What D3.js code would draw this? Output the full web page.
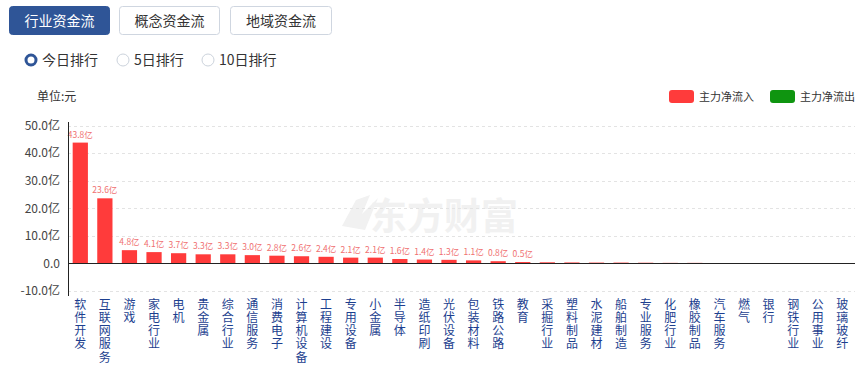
<!DOCTYPE html>
<html><head><meta charset="utf-8">
<script src="https://cdn.jsdelivr.net/npm/d3@7"></script>
<style>
body{margin:0;background:#fff;font-family:"Microsoft YaHei","Noto Sans CJK SC",sans-serif;}
</style></head>
<body><svg id="c" width="868" height="366"></svg>
<script>
const categories = ["软件开发","互联网服务","游戏","家电行业","电机","贵金属","综合行业","通信服务","消费电子","计算机设备","工程建设","专用设备","小金属","半导体","造纸印刷","光伏设备","包装材料","铁路公路","教育","采掘行业","塑料制品","水泥建材","船舶制造","专业服务","化肥行业","橡胶制品","汽车服务","燃气","银行","钢铁行业","公用事业","玻璃玻纤"];
const inflow = [43.8,23.6,4.8,4.1,3.7,3.3,3.3,3.0,2.8,2.6,2.4,2.1,2.1,1.6,1.4,1.3,1.1,0.8,0.5,0.4,0.35,0.3,0.3,0.25,0.2,0.2,0.15,0.1,0.08,0.05,0.03,0.02];
const yTicks = [50,40,30,20,10,0,-10];
const tabs = ["行业资金流","概念资金流","地域资金流"];
const radios = ["今日排行","5日排行","10日排行"];
const legendItems = [{name:"主力净流入",color:"#ff3b3b"},{name:"主力净流出",color:"#0f9510"}];

const svg = d3.select("#c");
const F = '"Microsoft YaHei","Noto Sans CJK SC",sans-serif';

// tabs
const tabX = d3.scaleOrdinal().domain(tabs).range([9,119,230]);
const tabW = [101,101,102];
tabs.forEach((t,i)=>{
  const g = svg.append("g");
  g.append("rect").attr("x",tabX(t)+0.5).attr("y",6.5).attr("width",tabW[i]-1).attr("height",28).attr("rx",3)
   .attr("fill",i===0?"#2f5597":"#fff").attr("stroke",i===0?"#2f5597":"#cfd6e0");
  g.append("text").attr("x",tabX(t)+tabW[i]/2).attr("y",26).attr("text-anchor","middle")
   .attr("font-size",14).attr("font-family",F).attr("fill",i===0?"#fff":"#333").text(t);
});

// radios
const radioX = [31,123,208];
radios.forEach((r,i)=>{
  if(i===0){
    svg.append("circle").attr("cx",radioX[i]).attr("cy",60).attr("r",5).attr("fill","#fff").attr("stroke","#2f5597").attr("stroke-width",3);
  } else {
    svg.append("circle").attr("cx",radioX[i]).attr("cy",60).attr("r",6).attr("fill","#fff").attr("stroke","#ccd3dc").attr("stroke-width",1);
  }
  svg.append("text").attr("x",radioX[i]+11).attr("y",65).attr("font-size",14).attr("font-family",F).attr("fill","#333").text(r);
});

// unit
svg.append("text").attr("x",37).attr("y",101).attr("font-size",12).attr("font-family",F).attr("fill","#333").text("单位:元");

// legend
const lx = [669,770];
legendItems.forEach((d,i)=>{
  svg.append("rect").attr("x",lx[i]).attr("y",90).attr("width",25).attr("height",13).attr("rx",3).attr("fill",d.color);
  svg.append("text").attr("x",lx[i]+30).attr("y",101).attr("font-size",11).attr("font-family",F).attr("fill","#333").text(d.name);
});

// scales
const x = d3.scaleBand().domain(categories).range([68,854.6]).paddingInner(0.38).paddingOuter(0.19);
const y = d3.scaleLinear().domain([-10,50]).range([291,125.5]);

// watermark
const wm = svg.append("g");
wm.append("path").attr("d","M342,226 L356,200 L370,195 L362,214 L378,198 L365,230 Z").attr("fill","#f1f1f1");
wm.append("text").attr("x",370).attr("y",230).attr("font-size",37).attr("font-weight","bold").attr("font-family",F)
  .attr("fill","#f1f1f1").text("东方财富");

// grid
svg.append("g").selectAll("line").data(yTicks).join("line")
  .attr("x1",68).attr("x2",855).attr("y1",d=>Math.round(y(d))+0.5).attr("y2",d=>Math.round(y(d))+0.5)
  .attr("stroke","#e3e3e3").attr("stroke-dasharray","3,3").attr("display",d=>d===0?"none":null);

// y axis labels
const yAxis = d3.axisLeft(y).tickValues(yTicks).tickSize(0).tickPadding(8)
  .tickFormat(d=>d===0?"0.0":d.toFixed(1)+"亿");
const ya = svg.append("g").attr("transform","translate(68,0)").call(yAxis);
ya.select(".domain").remove();
ya.selectAll("text").attr("font-size",12).attr("font-family",F).attr("fill","#444");

// bars
svg.append("g").selectAll("rect").data(inflow).join("rect")
  .attr("x",(d,i)=>x(categories[i])).attr("width",x.bandwidth())
  .attr("y",d=>y(d)).attr("height",d=>y(0)-y(d)).attr("fill","#ff3b3b");

// bar labels
svg.append("g").selectAll("text").data(inflow.map((v,i)=>({v,c:categories[i]})).filter(d=>d.v>=0.5)).join("text")
  .attr("x",d=>x(d.c)+x.bandwidth()/2).attr("y",d=>y(d.v)-5).attr("text-anchor","middle")
  .attr("font-size",8.5).attr("font-family",F).attr("fill","#f07070").text(d=>d.v.toFixed(1)+"亿");

// axis lines
svg.append("line").attr("x1",68.5).attr("x2",68.5).attr("y1",122).attr("y2",296).attr("stroke","#222").attr("stroke-width",1);
svg.append("line").attr("x1",68).attr("x2",855).attr("y1",Math.round(y(0))+0.5).attr("y2",Math.round(y(0))+0.5).attr("stroke","#222").attr("stroke-width",1.2);

// x labels vertical (one text per category)
svg.append("g").selectAll("text").data(categories).join("text")
  .attr("x",c=>x(c)+x.bandwidth()/2).attr("y",298)
  .style("writing-mode","vertical-rl").style("text-orientation","upright")
  .attr("letter-spacing",1.3)
  .attr("font-size",12).attr("font-family",F).attr("fill","#1d3f8f").text(c=>c);
</script></body></html>
